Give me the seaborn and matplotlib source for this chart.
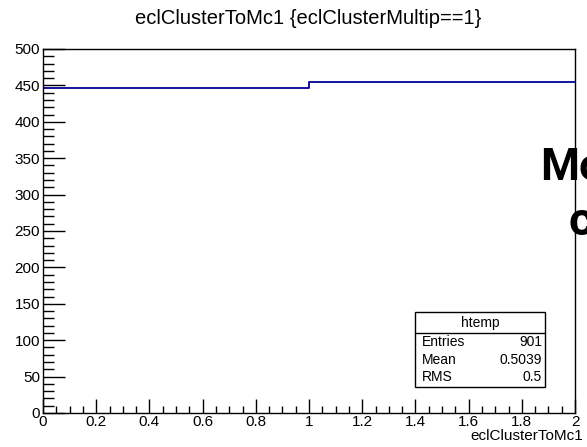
import numpy as np
import pandas as pd
import matplotlib
matplotlib.use("Agg")
import matplotlib.pyplot as plt
from matplotlib.ticker import MultipleLocator, FuncFormatter
from matplotlib.patches import Rectangle
import seaborn as sns

# Histogram contents: eclClusterToMc1 for events with eclClusterMultip==1
bin_edges = [0.0, 1.0, 2.0]
bin_centers = [0.5, 1.5]
bin_counts = [447, 454]

# Stats box contents
stats_title = "htemp"
stats_names = ["Entries", "Mean", "RMS"]
stats_values = ["901", "0.5039", "0.5"]

sns.set_theme(style="white")
plt.rcParams["font.family"] = ["Liberation Sans", "DejaVu Sans"]
plt.rcParams["text.color"] = "black"

W, H = 587, 447
fig = plt.figure(figsize=(W / 100, H / 100), dpi=100)
ax = fig.add_axes([43 / W, 1 - 413 / H, (575 - 43) / W, (413 - 49) / H])

df = pd.DataFrame({"eclClusterToMc1": bin_centers, "n": bin_counts})
sns.histplot(data=df, x="eclClusterToMc1", weights="n", bins=bin_edges,
             element="step", fill=False, color="#000099", linewidth=1.3, ax=ax)

ax.set_xlim(0, 2)
ax.set_ylim(0, 500)
ax.set_ylabel("")
ax.set_xlabel("")

for s in ax.spines.values():
    s.set_visible(True)
    s.set_color("black")
    s.set_linewidth(1.0)

ax.xaxis.set_major_locator(MultipleLocator(0.2))
ax.xaxis.set_minor_locator(MultipleLocator(0.05))
ax.yaxis.set_major_locator(MultipleLocator(50))
ax.yaxis.set_minor_locator(MultipleLocator(10))
fmt = FuncFormatter(lambda v, p: f"{v:g}")
ax.xaxis.set_major_formatter(fmt)
ax.yaxis.set_major_formatter(fmt)

ax.tick_params(axis="both", which="both", direction="in", colors="black",
               bottom=True, left=True, top=False, right=False,
               labelsize=11, width=1.0)
ax.tick_params(axis="x", which="major", length=10, pad=1.5)
ax.tick_params(axis="x", which="minor", length=5)
ax.tick_params(axis="y", which="major", length=16, pad=2)
ax.tick_params(axis="y", which="minor", length=8)

fig.text(308 / W, 1 - 18 / H, "eclClusterToMc1 {eclClusterMultip==1}",
         ha="center", va="center", fontsize=14.5, color="black")
fig.text(583 / W, 1 - 436 / H, "eclClusterToMc1", ha="right", va="center",
         fontsize=11, color="black")

# Stats box
bx0, bx1, by0, by1, bdiv = 415, 545, 312, 387, 333
ax_box = fig.add_axes([0, 0, 1, 1], facecolor="none")
ax_box.set_xlim(0, W)
ax_box.set_ylim(H, 0)
ax_box.axis("off")
ax_box.add_patch(Rectangle((bx0, by0), bx1 - bx0, by1 - by0, facecolor="white",
                           edgecolor="black", linewidth=1.0))
ax_box.plot([bx0, bx1], [bdiv, bdiv], color="black", linewidth=1.0)
ax_box.text((bx0 + bx1) / 2, (by0 + bdiv) / 2, stats_title, ha="center",
            va="center", fontsize=10, color="black")
for i, (name, val) in enumerate(zip(stats_names, stats_values)):
    y = 342 + i * 17.5
    ax_box.text(422, y, name, ha="left", va="center", fontsize=10, color="black")
    ax_box.text(542, y, val, ha="right", va="center", fontsize=10, color="black")

# Overlaid slide text at the right edge
ax_box.text(540, 180, "Mo", ha="left", va="baseline", fontsize=32,
            fontweight="bold", family="Roboto", color="black", zorder=1)
ax_box.text(569, 235, "c", ha="left", va="baseline", fontsize=34,
            fontweight="bold", family="Roboto", color="black", zorder=1)

fig.savefig("out.png", dpi=100)
